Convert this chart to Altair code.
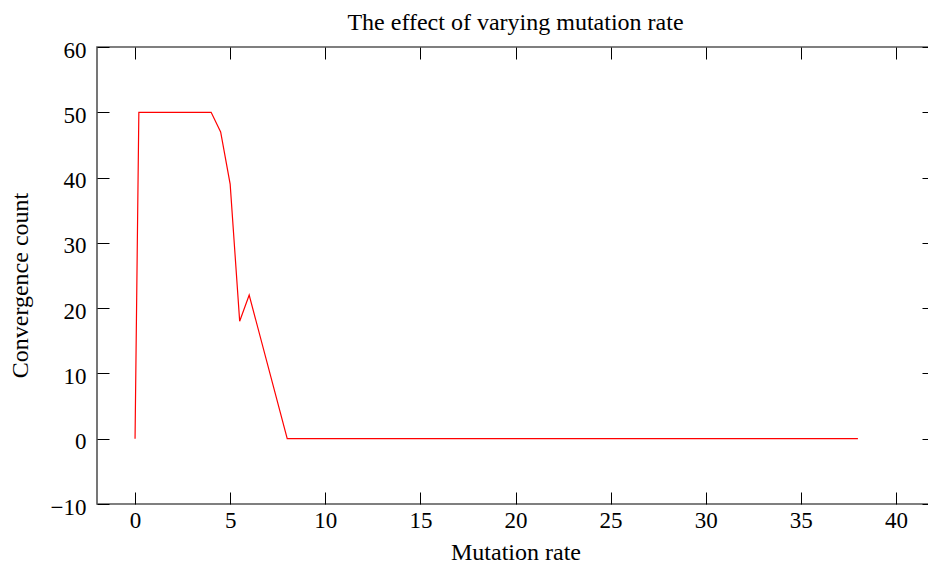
import altair as alt
import pandas as pd

# Data
mutation_rate = [0, 0.2, 4, 4.5, 5, 5.5, 6, 8, 38]
convergence_count = [0, 50, 50, 47, 39, 18, 22, 0, 0]
x_ticks = [0, 5, 10, 15, 20, 25, 30, 35, 40]
y_ticks = [-10, 0, 10, 20, 30, 40, 50, 60]

df = pd.DataFrame({"rate": mutation_rate, "count": convergence_count})

FONT = "Liberation Serif"
FS = 23
TFS = 24
xscale = alt.Scale(domain=[-2, 42], nice=False, zero=False)
yscale = alt.Scale(domain=[-10, 60], nice=False, zero=False)

common_axis = dict(domain=False, grid=False, tickColor="black", tickWidth=1,
                   labelFont=FONT, labelFontSize=FS, labelColor="black",
                   titleFont=FONT, titleFontSize=TFS, titleColor="black",
                   titleFontWeight="normal")

main = alt.Chart(df).mark_line(color="#ff0000", strokeWidth=1.2, clip=True).encode(
    x=alt.X("rate:Q", scale=xscale, title="Mutation rate",
            axis=alt.Axis(orient="bottom", values=x_ticks, offset=-12, tickSize=12,
                          labelPadding=5, titlePadding=8, **common_axis)),
    y=alt.Y("count:Q", scale=yscale, title="Convergence count",
            axis=alt.Axis(orient="left", values=y_ticks, offset=-12, tickSize=12,
                          labelPadding=11, labelOffset=3, titlePadding=18, titleY=238,
                          **common_axis)),
)

mirror = alt.Chart(df).mark_line(opacity=0).encode(
    x=alt.X("rate:Q", scale=xscale, title=None,
            axis=alt.Axis(orient="top", values=x_ticks, offset=-12, tickSize=12,
                          labels=False, **common_axis)),
    y=alt.Y("count:Q", scale=yscale, title=None,
            axis=alt.Axis(orient="right", values=y_ticks, offset=-12, tickSize=12,
                          labels=False, **common_axis)),
)

chart = alt.layer(main, mirror).resolve_axis(x="independent", y="independent").properties(
    width=837,
    height=457,
    background="white",
    autosize=alt.AutoSizeParams(type="none"),
    padding={"left": 97, "top": 47, "right": -6, "bottom": 68},
    title=alt.TitleParams("The effect of varying mutation rate", font=FONT, fontSize=TFS,
                          fontWeight="normal", color="black", anchor="middle", offset=4),
).configure_view(stroke="#555555", strokeWidth=1.6)

chart.save("out.html", embed_options={"renderer": "svg", "actions": False})
